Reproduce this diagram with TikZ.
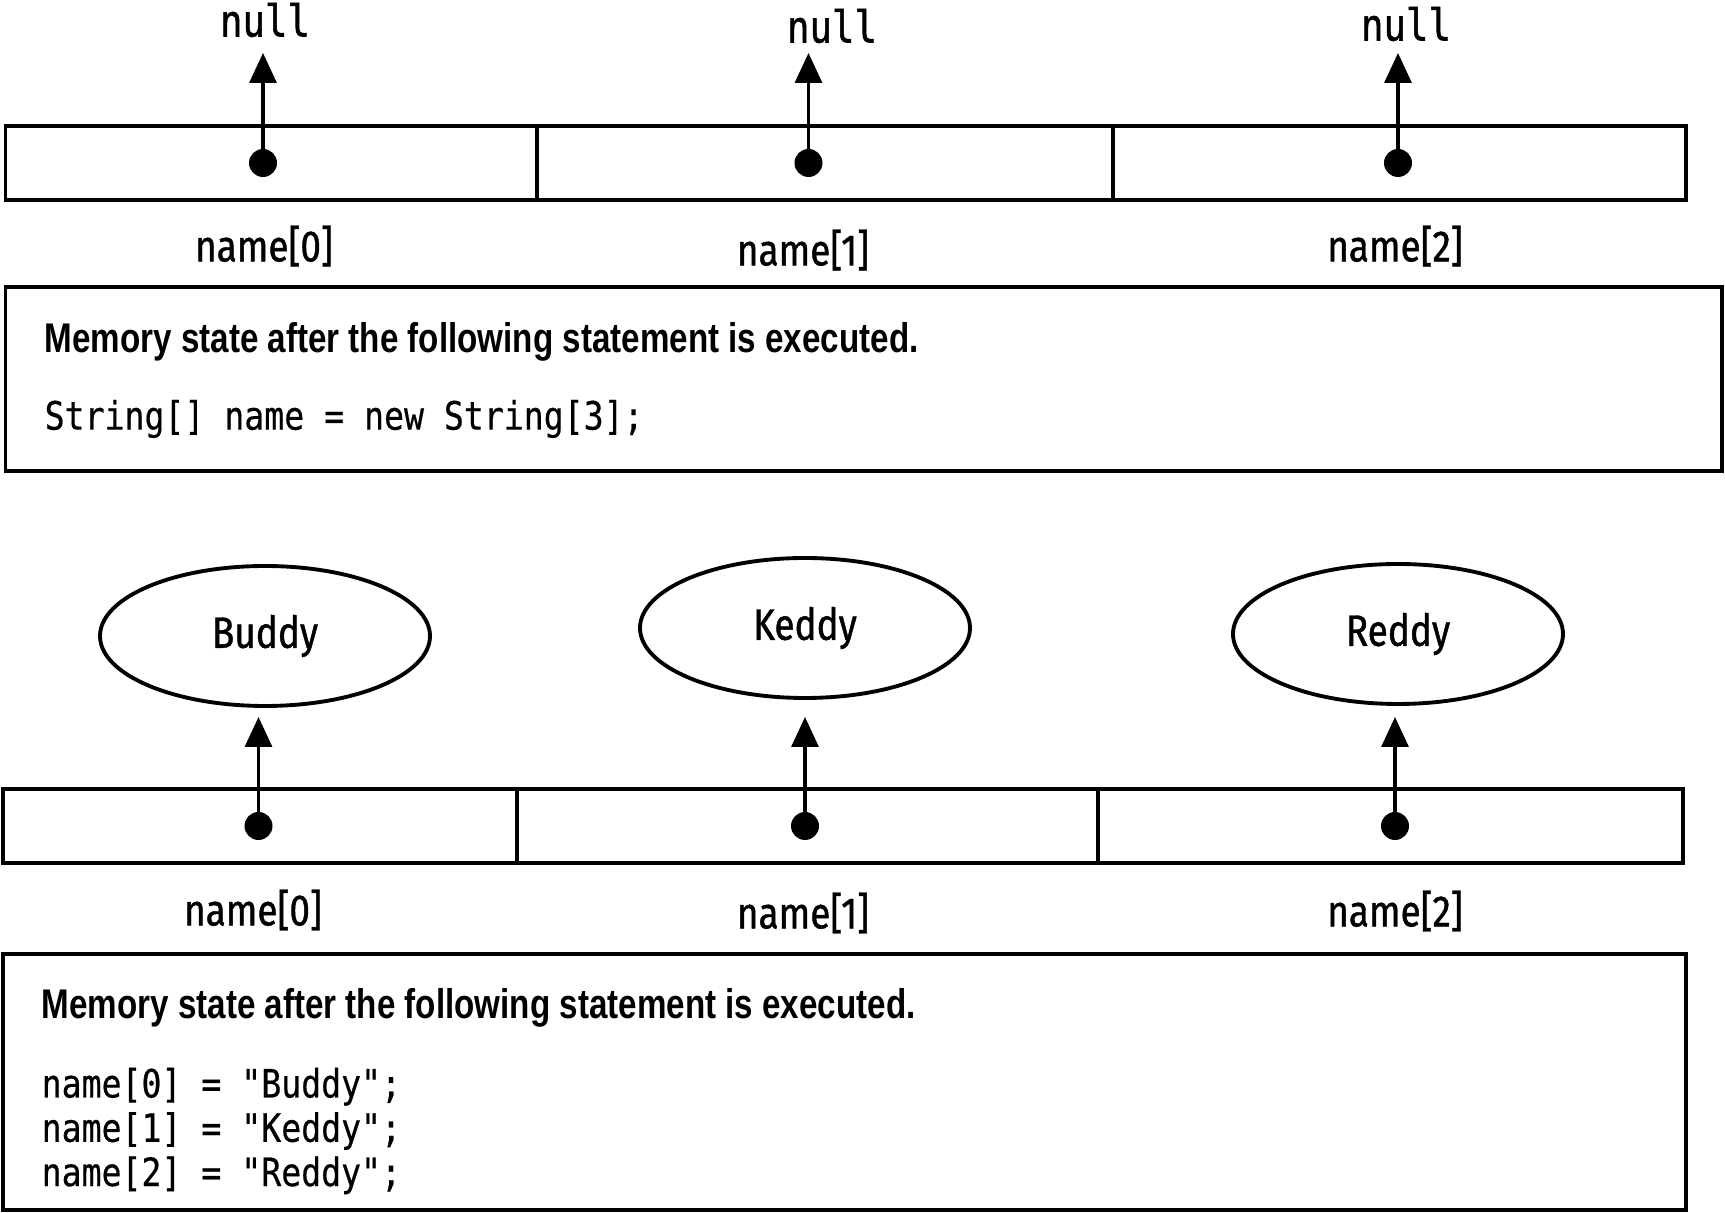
\documentclass[tikz,border=0pt]{standalone}
\usepackage{fontspec}
\setmainfont{Fira Sans}
\newfontfamily\headfont[FakeStretch=0.8]{Liberation Sans}
\newfontfamily\codefont[FakeStretch=0.85,FakeBold=0.5,Ligatures=TeXOff]{DejaVu Sans Mono}
\newfontfamily\nulfont[FakeStretch=0.85,FakeBold=1.3]{DejaVu Sans Mono}
\newfontfamily\labfont[FakeStretch=0.84,FakeBold=1]{Fira Sans}
\usetikzlibrary{arrows.meta,shapes.geometric,positioning}

\begin{document}
\begin{tikzpicture}[
        % define styles
        cell/.style={
            draw,
            line width=1.1pt,
            inner sep=0pt,
            minimum height=0.74cm
        },
        panel/.style={
            draw,
            line width=1.1pt,
            inner sep=0pt
        },
        dot/.style={
            circle,
            fill,
            inner sep=0pt,
            minimum size=0.28cm
        },
        obj/.style={
            ellipse,
            draw,
            line width=1.1pt,
            minimum width=3.3cm,
            minimum height=1.4cm,
            font=\labfont\fontsize{12.5pt}{14pt}\selectfont
        },
        ptr/.style={
            line width=0.95pt,
            -{Triangle[length=0.3cm,width=0.27cm]}
        },
        lbl/.style={
            inner sep=0pt,
            font=\labfont\fontsize{12.5pt}{14pt}\selectfont
        },
        nul/.style={
            inner sep=0pt,
            font=\nulfont\fontsize{12.5pt}{14pt}\selectfont
        },
        title/.style={
            anchor=west,
            inner sep=0pt,
            font=\headfont\bfseries\fontsize{11.8pt}{14pt}\selectfont
        },
        code/.style={
            anchor=west,
            inner sep=0pt,
            align=left,
            font=\codefont\fontsize{11.1pt}{12.6pt}\selectfont
        }
    ]
        \useasboundingbox (0,0) rectangle (17.25,-12.13);

        % first state: all three slots are null
        \node[cell,minimum width=5.315cm] (c0) at (2.7125,-1.6325) {};
        \node[cell,minimum width=5.76cm]  (c1) at (8.25,-1.6325) {};
        \node[cell,minimum width=5.73cm]  (c2) at (13.995,-1.6325) {};
        \node[dot] (p0) at (2.63,-1.63) {};
        \node[dot] (p1) at (8.085,-1.63) {};
        \node[dot] (p2) at (13.98,-1.63) {};
        \coordinate (t0) at (2.63,-0.53);
        \coordinate (t1) at (8.085,-0.53);
        \coordinate (t2) at (13.98,-0.53);
        \node[nul] (n0) at (2.65,-0.20) {null};
        \node[nul] (n1) at (8.32,-0.26) {null};
        \node[nul] (n2) at (14.06,-0.24) {null};
        \node[lbl] (l0) at (2.64,-2.46) {name[0]};
        \node[lbl] (l1) at (8.03,-2.50) {name[1]};
        \node[lbl] (l2) at (13.95,-2.46) {name[2]};

        \node[panel,minimum width=17.165cm,minimum height=1.84cm] (box1) at (8.6375,-3.79) {};
        \node[title] (head1) at (0.44,-3.42) {Memory state after the following statement is executed.};
        \node[code] (stmt1) at (0.44,-4.19) {String[] name = new String[3];};

        \path (p0.center) edge[ptr] (t0)
              (p1.center) edge[ptr] (t1)
              (p2.center) edge[ptr] (t2);

        % second state: slots point to the string objects
        \node[obj] (b0) at (2.65,-6.36) {Buddy};
        \node[obj] (b1) at (8.05,-6.28) {Keddy};
        \node[obj] (b2) at (13.98,-6.34) {Reddy};
        \node[cell,minimum width=5.14cm] (d0) at (2.60,-8.2625) {};
        \node[cell,minimum width=5.81cm] (d1) at (8.075,-8.2625) {};
        \node[cell,minimum width=5.85cm] (d2) at (13.905,-8.2625) {};
        \node[dot] (q0) at (2.585,-8.26) {};
        \node[dot] (q1) at (8.05,-8.26) {};
        \node[dot] (q2) at (13.95,-8.26) {};
        \coordinate (u0) at (2.585,-7.17);
        \coordinate (u1) at (8.05,-7.17);
        \coordinate (u2) at (13.95,-7.17);
        \node[lbl] (m0) at (2.53,-9.10) {name[0]};
        \node[lbl] (m1) at (8.03,-9.13) {name[1]};
        \node[lbl] (m2) at (13.95,-9.11) {name[2]};

        \node[panel,minimum width=16.83cm,minimum height=2.56cm] (box2) at (8.445,-10.82) {};
        \node[title] (head2) at (0.41,-10.08) {Memory state after the following statement is executed.};
        \node[code] (stmt2) at (0.41,-11.31) {name[0] = "Buddy";\\name[1] = "Keddy";\\name[2] = "Reddy";};

        \path (q0.center) edge[ptr] (u0)
              (q1.center) edge[ptr] (u1)
              (q2.center) edge[ptr] (u2);
    \end{tikzpicture}
\end{document}
